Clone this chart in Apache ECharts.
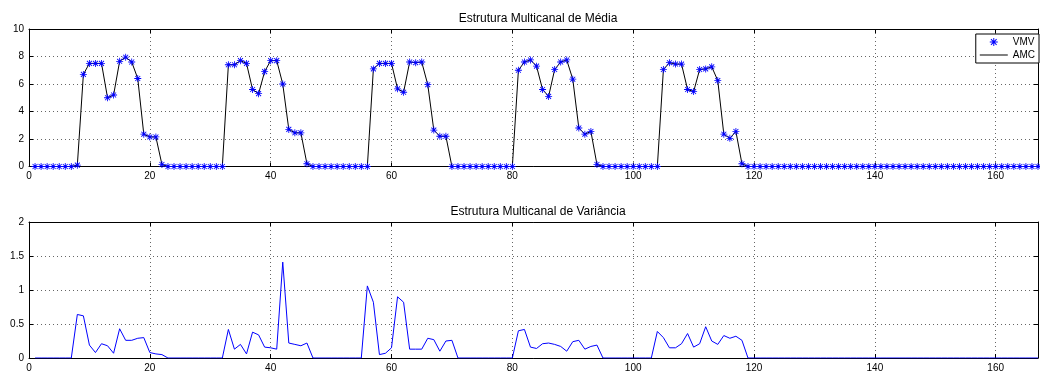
<!DOCTYPE html>
<html>
<head>
<meta charset="utf-8">
<script src="https://cdn.jsdelivr.net/npm/echarts@6/dist/echarts.min.js"></script>
<style>
  html, body { margin: 0; padding: 0; background: #fff; }
  #chart { width: 1040px; height: 373px; }
</style>
</head>
<body>
<div id="chart"></div>
<script>
// ---- data ----
const titles = ['Estrutura Multicanal de Média', 'Estrutura Multicanal de Variância'];
const seriesNames = ['VMV', 'AMC'];
const xTickLabels = [0, 20, 40, 60, 80, 100, 120, 140, 160];
const meanTickLabels = [0, 2, 4, 6, 8, 10];
const varTickLabels = [0, 0.5, 1, 1.5, 2];

// mean structure, samples 1..167
const meanValues = [
  0, 0, 0, 0, 0, 0, 0, 0.1, 6.7, 7.5,
  7.5, 7.5, 5.0, 5.2, 7.65, 7.95, 7.6, 6.4, 2.35, 2.15,
  2.15, 0.15, 0, 0, 0, 0, 0, 0, 0, 0,
  0, 0, 7.4, 7.4, 7.7, 7.5, 5.6, 5.3, 6.9, 7.7,
  7.7, 6.0, 2.7, 2.45, 2.45, 0.2, 0, 0, 0, 0,
  0, 0, 0, 0, 0, 0, 7.1, 7.5, 7.5, 7.5,
  5.65, 5.4, 7.6, 7.55, 7.6, 5.95, 2.65, 2.2, 2.2, 0,
  0, 0, 0, 0, 0, 0, 0, 0, 0, 0,
  7.0, 7.6, 7.75, 7.3, 5.6, 5.1, 7.05, 7.6, 7.75, 6.35,
  2.8, 2.35, 2.55, 0.15, 0, 0, 0, 0, 0, 0,
  0, 0, 0, 0, 7.05, 7.55, 7.45, 7.45, 5.6, 5.45,
  7.05, 7.1, 7.25, 6.25, 2.35, 2.05, 2.55, 0.2, 0, 0,
  0, 0, 0, 0, 0, 0, 0, 0, 0, 0,
  0, 0, 0, 0, 0, 0, 0, 0, 0, 0,
  0, 0, 0, 0, 0, 0, 0, 0, 0, 0,
  0, 0, 0, 0, 0, 0, 0, 0, 0, 0,
  0, 0, 0, 0, 0, 0, 0
];

// variance structure, samples 1..167
const varianceValues = [
  0, 0, 0, 0, 0, 0, 0, 0.64, 0.62, 0.19,
  0.08, 0.21, 0.18, 0.07, 0.43, 0.26, 0.26, 0.29, 0.3, 0.08,
  0.06, 0.05, 0, 0, 0, 0, 0, 0, 0, 0,
  0, 0, 0.42, 0.13, 0.2, 0.06, 0.38, 0.34, 0.16, 0.15,
  0.13, 1.41, 0.22, 0.2, 0.18, 0.22, 0, 0, 0, 0,
  0, 0, 0, 0, 0, 1.06, 0.82, 0.05, 0.07, 0.15,
  0.9, 0.82, 0.13, 0.13, 0.13, 0.29, 0.27, 0.1, 0.25, 0.26,
  0, 0, 0, 0, 0, 0, 0, 0, 0, 0,
  0.4, 0.42, 0.16, 0.14, 0.21, 0.22, 0.2, 0.17, 0.1, 0.24,
  0.26, 0.13, 0.17, 0.19, 0, 0, 0, 0, 0, 0,
  0, 0, 0, 0.39, 0.3, 0.15, 0.15, 0.21, 0.36, 0.16,
  0.21, 0.46, 0.25, 0.2, 0.33, 0.29, 0.32, 0.26, 0, 0,
  0, 0, 0, 0, 0, 0, 0, 0, 0, 0,
  0, 0, 0, 0, 0, 0, 0, 0, 0, 0,
  0, 0, 0, 0, 0, 0, 0, 0, 0, 0,
  0, 0, 0, 0, 0, 0, 0, 0, 0, 0,
  0, 0, 0, 0, 0, 0, 0
];

// ---- build ----
const N = meanValues.length;
const toPairs = arr => arr.map((v, i) => [i + 1, v]);

function rectPath(dx, dy) {
  const L = 5, W = 0.6;
  const nx = -dy, ny = dx;
  const pts = [
    [-L * dx - W * nx, -L * dy - W * ny],
    [ L * dx - W * nx,  L * dy - W * ny],
    [ L * dx + W * nx,  L * dy + W * ny],
    [-L * dx + W * nx, -L * dy + W * ny]
  ];
  return 'M' + pts.map(p => p[0].toFixed(3) + ' ' + p[1].toFixed(3)).join(' L') + ' Z';
}
const r = Math.SQRT1_2;
const asterisk = 'path://' + [rectPath(1, 0), rectPath(0, 1), rectPath(r, r), rectPath(r, -r)].join(' ');
// thin horizontal line inside an 28x8 box (corner moves set the bounding box)
const lineIcon = 'path://M0 0 M28 8 M0 3.5 L28 3.5 L28 4.5 L0 4.5 Z';

const FONT = 'Liberation Sans, Arial, Helvetica, sans-serif';
const xMin = xTickLabels[0];
const xMax = N;
const xStep = xTickLabels[1] - xTickLabels[0];

function xAxes(gridIndex) {
  return [
    {
      type: 'value', gridIndex, position: 'bottom', min: xMin, max: xMax, interval: xStep,
      axisLine: { show: true, onZero: false, lineStyle: { color: '#000', width: 1 } },
      axisTick: { show: true, inside: true, length: 4, lineStyle: { color: '#000' } },
      axisLabel: { color: '#000', fontSize: 10, fontFamily: FONT, margin: 5, showMaxLabel: false },
      splitLine: { show: true, lineStyle: { color: '#666', type: [1, 3], width: 1 } }
    },
    {
      type: 'value', gridIndex, position: 'top', min: xMin, max: xMax, interval: xStep,
      axisLine: { show: true, onZero: false, lineStyle: { color: '#000', width: 1 } },
      axisTick: { show: true, inside: true, length: 4, lineStyle: { color: '#000' } },
      axisLabel: { show: false },
      splitLine: { show: false }
    }
  ];
}
function yAxes(gridIndex, ticks) {
  const min = ticks[0], max = ticks[ticks.length - 1], step = ticks[1] - ticks[0];
  return [
    {
      type: 'value', gridIndex, position: 'left', min, max, interval: step,
      axisLine: { show: true, onZero: false, lineStyle: { color: '#000', width: 1 } },
      axisTick: { show: true, inside: true, length: 4, lineStyle: { color: '#000' } },
      axisLabel: { color: '#000', fontSize: 10, fontFamily: FONT, margin: 5 },
      splitLine: { show: true, lineStyle: { color: '#666', type: [1, 3], width: 1 } }
    },
    {
      type: 'value', gridIndex, position: 'right', min, max, interval: step,
      axisLine: { show: true, onZero: false, lineStyle: { color: '#000', width: 1 } },
      axisTick: { show: true, inside: true, length: 4, lineStyle: { color: '#000' } },
      axisLabel: { show: false },
      splitLine: { show: false }
    }
  ];
}

const xa = xAxes(0).concat(xAxes(1));
const ya = yAxes(0, meanTickLabels).concat(yAxes(1, varTickLabels));

const option = {
  animation: false,
  backgroundColor: '#fff',
  title: [
    { text: titles[0], left: 533, top: 8, textAlign: 'center',
      textStyle: { fontSize: 12, fontWeight: 'normal', color: '#000', fontFamily: FONT } },
    { text: titles[1], left: 533, top: 201, textAlign: 'center',
      textStyle: { fontSize: 12, fontWeight: 'normal', color: '#000', fontFamily: FONT } }
  ],
  grid: [
    { left: 29, right: 2, top: 29, height: 137.5, containLabel: false },
    { left: 29, right: 2, top: 222, height: 137, containLabel: false }
  ],
  legend: {
    right: 1, top: 34, orient: 'vertical',
    backgroundColor: '#fff', borderColor: '#000', borderWidth: 1,
    padding: [3, 4, 3, 4], itemGap: 3, itemWidth: 28, itemHeight: 8,
    textStyle: { fontSize: 10, color: '#000', fontFamily: FONT },
    data: [
      { name: seriesNames[0], icon: asterisk, itemStyle: { color: '#0000ff' } },
      { name: seriesNames[1], icon: lineIcon, itemStyle: { color: '#000' } }
    ]
  },
  xAxis: xa,
  yAxis: ya,
  series: [
    {
      name: seriesNames[1], type: 'line', xAxisIndex: 0, yAxisIndex: 0,
      data: toPairs(meanValues), showSymbol: false, symbol: 'none',
      lineStyle: { color: '#000', width: 1 }, itemStyle: { color: '#000' }, z: 2
    },
    {
      name: seriesNames[0], type: 'scatter', xAxisIndex: 0, yAxisIndex: 0,
      data: toPairs(meanValues), symbol: asterisk, symbolSize: 7, symbolKeepAspect: true,
      itemStyle: { color: '#0000ff', opacity: 1 }, z: 3
    },
    {
      name: 'var', type: 'line', xAxisIndex: 2, yAxisIndex: 2,
      data: toPairs(varianceValues), showSymbol: false, symbol: 'none',
      lineStyle: { color: '#0000ff', width: 1 }, z: 2
    }
  ]
};

const chart = echarts.init(document.getElementById('chart'), null, { renderer: 'canvas' });
chart.setOption(option);
</script>
</body>
</html>
